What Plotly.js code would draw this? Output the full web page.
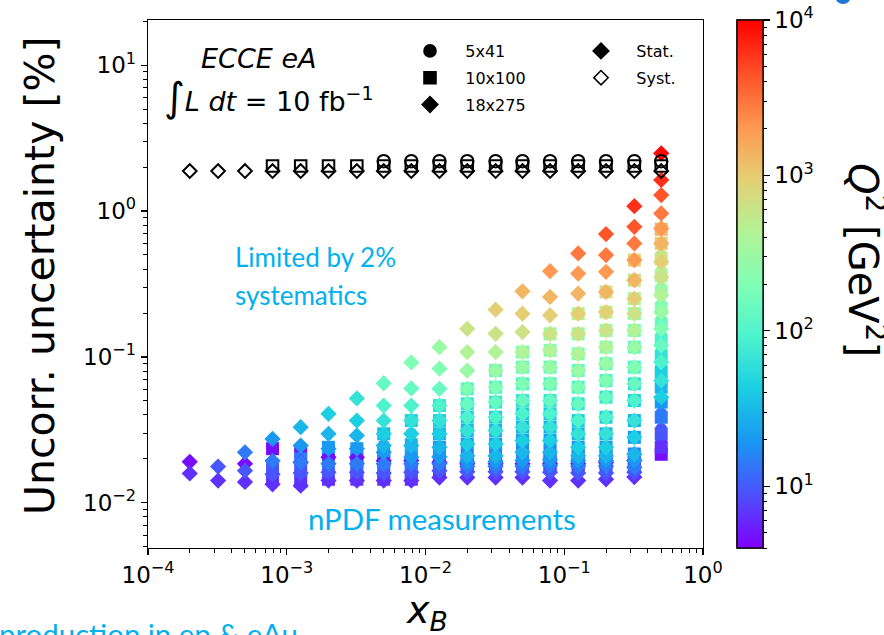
<!DOCTYPE html>
<html><head><meta charset="utf-8">
<script src="https://cdn.plot.ly/plotly-3.0.1.min.js"></script>
<style>html,body{margin:0;padding:0;background:#fff;} #chart{width:884px;height:635px;}</style>
</head><body><div id="chart"></div>
<script>
// ---------------- data ----------------
const xBins = [2.0e-4, 3.2e-4, 5.0e-4, 7.9e-4, 1.26e-3, 2.0e-3, 3.2e-3, 5.0e-3, 7.9e-3,
               1.26e-2, 2.0e-2, 3.2e-2, 5.0e-2, 7.9e-2, 0.126, 0.2, 0.32, 0.5];
const q2Bins = [4.5, 6.5, 9.5, 14, 20, 30, 43, 64, 93, 137, 200, 295, 430, 630, 930, 1360, 2000, 2900, 4300, 6300, 9200];

// stat. uncertainty [%], one row per x bin, entry j = Q2 bin j
const stat18x275 = [
 [0.0191, 0.0159],
 [null, 0.0142, 0.0177],
 [0.0185, 0.0139, 0.0166, 0.0222],
 [null, 0.0134, 0.0157, 0.0194, 0.0274],
 [0.0190, 0.0131, 0.0160, 0.0189, 0.0247, 0.0330],
 [0.0205, 0.0142, 0.0162, 0.0185, 0.0235, 0.0297, 0.0407],
 [0.0205, 0.0142, 0.0162, 0.0185, 0.0235, 0.0289, 0.0366, 0.0519],
 [0.0194, 0.0142, 0.0160, 0.0185, 0.0222, 0.0247, 0.0297, 0.0366, 0.0464, 0.0660],
 [0.0195, 0.0142, 0.0162, 0.0185, 0.0205, 0.0247, 0.0297, 0.0366, 0.0464, 0.0608, 0.0917],
 [0.0190, 0.0149, 0.0166, 0.0185, 0.0207, 0.0240, 0.0297, 0.0366, 0.0464, 0.0604, 0.0830, 0.1167],
 [0.0185, 0.0149, 0.0163, 0.0177, 0.0191, 0.0210, 0.0253, 0.0313, 0.0386, 0.0477, 0.0604, 0.0807, 0.108, 0.156],
 [0.0185, 0.0149, 0.0163, 0.0178, 0.0192, 0.0210, 0.0253, 0.0313, 0.0386, 0.0490, 0.0620, 0.0807, 0.108, 0.144, 0.211],
 [0.0185, 0.0149, 0.0163, 0.0178, 0.0195, 0.0222, 0.0267, 0.0330, 0.0407, 0.0502, 0.0654, 0.0851, 0.108, 0.148, 0.198, 0.282],
 [0.0185, 0.0142, 0.0162, 0.0180, 0.0197, 0.0222, 0.0267, 0.0330, 0.0407, 0.0502, 0.0654, 0.0851, 0.111, 0.144, 0.193, 0.258, 0.387],
 [0.0185, 0.0142, 0.0160, 0.0178, 0.0194, 0.0210, 0.0240, 0.0297, 0.0366, 0.0477, 0.0620, 0.0807, 0.105, 0.144, 0.198, 0.272, 0.373, 0.512],
 [0.0190, 0.0145, 0.0160, 0.0178, 0.0194, 0.0210, 0.0240, 0.0297, 0.0386, 0.0530, 0.0689, 0.0898, 0.1167, 0.152, 0.203, 0.279, 0.383, 0.499, 0.695],
 [0.0195, 0.0150, 0.0162, 0.0175, 0.0195, 0.0216, 0.0281, 0.0366, 0.0502, 0.0654, 0.0851, 0.1167, 0.152, 0.198, 0.251, 0.336, 0.461, 0.600, 0.780, 1.08],
 [null, null, null, null, null, null, 0.0530, 0.0689, 0.0921, 0.120, 0.156, 0.203, 0.265, 0.353, 0.449, 0.600, 0.760, 0.964, 1.288, 1.634, 2.49]
];
const stat10x100 = [
 [], [], [],
 [0.0235, 0.0150, 0.0180],
 [0.0225, 0.0140, 0.0165, 0.0200],
 [0.0210, 0.0145, 0.0165, 0.0190, 0.0240],
 [0.0200, 0.0145, 0.0165, 0.0190, 0.0235],
 [0.0195, 0.0145, 0.0165, 0.0190, 0.0225, 0.0297],
 [0.0195, 0.0145, 0.0163, 0.0185, 0.0210, 0.0250, 0.0366],
 [0.0190, 0.0166, 0.0185, 0.0207, 0.0240, 0.0297, 0.0366, 0.0464],
 [0.0185, 0.0177, 0.0191, 0.0210, 0.0253, 0.0313, 0.0386, 0.0477, 0.0604],
 [0.0185, 0.0178, 0.0192, 0.0210, 0.0253, 0.0313, 0.0386, 0.0490, 0.0620, 0.0807],
 [0.0185, 0.0178, 0.0195, 0.0222, 0.0267, 0.0330, 0.0407, 0.0502, 0.0654, 0.0851, 0.108],
 [0.0185, 0.0180, 0.0197, 0.0222, 0.0267, 0.0330, 0.0407, 0.0502, 0.0654, 0.0851, 0.111, 0.144],
 [0.0185, 0.0178, 0.0194, 0.0210, 0.0240, 0.0297, 0.0366, 0.0477, 0.0620, 0.0807, 0.105, 0.144, 0.198],
 [0.0190, 0.0178, 0.0194, 0.0210, 0.0240, 0.0297, 0.0386, 0.0530, 0.0689, 0.0898, 0.1167, 0.152, 0.203, 0.279],
 [0.0190, 0.0175, 0.0195, 0.0216, 0.0281, 0.0366, 0.0502, 0.0654, 0.0851, 0.1167, 0.152, 0.198, 0.251, 0.336, 0.461],
 [0.0215, 0.0240, 0.0297, 0.0386, 0.0490, 0.0620, 0.0790, 0.101, 0.130, 0.168, 0.215, 0.280, 0.360, 0.470, 0.600, 0.750]
];
const stat5x41 = [
 [], [], [], [], [], [], [],
 [0.0185, 0.0222, 0.0247, 0.0297],
 [0.0185, 0.0205, 0.0247, 0.0297, 0.0366],
 [0.0185, 0.0207, 0.0240, 0.0297, 0.0366, 0.0464],
 [0.0180, 0.0191, 0.0210, 0.0253, 0.0313, 0.0386, 0.0477],
 [0.0180, 0.0192, 0.0210, 0.0253, 0.0313, 0.0386, 0.0490, 0.0620],
 [0.0180, 0.0195, 0.0222, 0.0267, 0.0330, 0.0407, 0.0502, 0.0654, 0.0851],
 [0.0180, 0.0197, 0.0222, 0.0267, 0.0330, 0.0407, 0.0502, 0.0654, 0.0851, 0.111],
 [0.0180, 0.0194, 0.0210, 0.0240, 0.0297, 0.0366, 0.0477, 0.0620, 0.0807, 0.105, 0.144],
 [0.0180, 0.0194, 0.0210, 0.0240, 0.0297, 0.0386, 0.0530, 0.0689, 0.0898, 0.1167, 0.152, 0.203],
 [0.0190, 0.0195, 0.0216, 0.0281, 0.0366, 0.0502, 0.0654, 0.0851, 0.1167, 0.152, 0.198, 0.251, 0.336],
 [0.0230, 0.0260, 0.0320, 0.0410, 0.0520, 0.0660, 0.0850, 0.110, 0.140, 0.180, 0.230, 0.300, 0.390, 0.500]
];
// syst. uncertainty [%] per x bin
const syst18x275 = [1.88,1.88,1.88,1.88,1.88,1.88,1.88,1.88,1.88,1.88,1.88,1.88,1.88,1.88,1.88,1.88,1.88,1.88];
const syst10x100 = [null,null,null,2.04,2.04,2.04,2.04,2.04,2.04,2.04,2.04,2.04,2.04,2.04,2.04,2.04,2.04,2.04];
const syst5x41   = [null,null,null,null,null,null,null,2.2,2.2,2.2,2.2,2.2,2.2,2.2,2.2,2.2,2.2,2.2];

const yTickVals = [0.01, 0.1, 1, 10];
const yTickText = ['10<sup>−2</sup>', '10<sup>−1</sup>', '10<sup>0</sup>', '10<sup>1</sup>'];
const xTickVals = [1e-4, 1e-3, 1e-2, 1e-1, 1];
const xTickText = ['10<sup>−4</sup>', '10<sup>−3</sup>', '10<sup>−2</sup>', '10<sup>−1</sup>', '10<sup>0</sup>'];
const cbTickText = ['10<sup>1</sup>', '10<sup>2</sup>', '10<sup>3</sup>', '10<sup>4</sup>'];

// ---------------- build ----------------
const L = 148, R = 703, T = 20, B = 548;
const px = X => (X - L) / (R - L);
const py = Y => (B - Y) / (B - T);

const rainbow = [
 [0.0, 'rgb(128,0,255)'], [0.1, 'rgb(77,79,252)'], [0.2, 'rgb(26,150,243)'], [0.3, 'rgb(26,206,227)'],
 [0.4, 'rgb(77,243,206)'], [0.5, 'rgb(128,255,180)'], [0.6, 'rgb(179,243,150)'], [0.7, 'rgb(230,206,116)'],
 [0.8, 'rgb(255,150,79)'], [0.9, 'rgb(255,79,40)'], [1.0, 'rgb(255,0,0)']
];
const cmin = Math.log10(4), cmax = 4;

function flatten(table) {
  const xs = [], ys = [], cs = [], q = [];
  table.forEach((row, k) => row.forEach((v, j) => {
    if (v !== null && v !== undefined) { xs.push(xBins[k]); ys.push(v); cs.push(Math.log10(q2Bins[j])); q.push(q2Bins[j]); }
  }));
  return {xs, ys, cs, q};
}

// colour bar ticks: majors (labelled) and minors (separate unlabelled bar underneath)
const cbMajorVals = [1, 2, 3, 4];
const cbMinorVals = [];
[0, 1, 2, 3].forEach(d => {
  for (let m = 2; m <= 9; m++) {
    const v = d + Math.log10(m);
    if (v >= cmin - 1e-9 && v <= cmax + 1e-9) cbMinorVals.push(v);
  }
});
const cbBase = {
  x: px(737), xanchor: 'left', xpad: 0, y: 0.5, yanchor: 'middle', len: 1, lenmode: 'fraction', ypad: 0,
  thickness: 26, thicknessmode: 'pixels', outlinewidth: 1.3, outlinecolor: 'black',
  tickmode: 'array', ticks: 'outside', tickcolor: 'black', title: {text: ''}
};

function statTrace(table, symbol, size, name, colorbar) {
  const f = flatten(table);
  return {
    type: 'scatter', mode: 'markers', x: f.xs, y: f.ys, name: name, showlegend: false,
    customdata: f.q, hovertemplate: 'x=%{x}<br>stat=%{y}%<br>Q²=%{customdata}<extra>' + name + '</extra>',
    marker: {
      symbol: symbol, size: size, color: f.cs, colorscale: rainbow, cmin: cmin, cmax: cmax,
      line: {width: 0}, opacity: 1, showscale: !!colorbar, colorbar: colorbar
    }
  };
}
function systTrace(vals, symbol, size, name) {
  return {
    type: 'scatter', mode: 'markers', x: xBins, y: vals, name: name + ' syst', showlegend: false,
    marker: {symbol: symbol, size: size, color: 'black', line: {width: 2, color: 'black'}}
  };
}
function legendTrace(name, symbol, size, legend, group) {
  return {
    type: 'scatter', mode: 'markers', x: [null], y: [null], name: name, legend: legend, legendgroup: group,
    showlegend: true, hoverinfo: 'skip',
    marker: {symbol: symbol, size: size, color: 'black', line: {width: 1.6, color: 'black'}}
  };
}

const minorBar = Object.assign({}, cbBase, {tickvals: cbMinorVals, ticklen: 3.5, tickwidth: 1, showticklabels: false});
const majorBar = Object.assign({}, cbBase, {tickvals: cbMajorVals, ticktext: cbTickText, ticklen: 6.5, tickwidth: 1.3,
  tickfont: {family: 'DejaVu Sans', size: 23, color: 'black'}});

const nb = '\u00a0\u00a0\u00a0';
const data = [
  statTrace(stat5x41, 'circle', 12, '5x41', minorBar),
  statTrace(stat10x100, 'square', 13, '10x100', null),
  statTrace(stat18x275, 'diamond', 12.5, '18x275', majorBar),
  systTrace(syst5x41, 'circle-open', 12.5, '5x41'),
  systTrace(syst10x100, 'square-open', 11.5, '10x100'),
  systTrace(syst18x275, 'diamond-open', 10.5, '18x275'),
  legendTrace(nb + '5x41', 'circle', 12, 'legend', 'g1'),
  legendTrace(nb + '10x100', 'square', 12, 'legend', 'g2'),
  legendTrace(nb + '18x275', 'diamond', 12, 'legend', 'g3'),
  legendTrace(nb + 'Stat.', 'diamond', 12, 'legend2', 'g4'),
  legendTrace(nb + 'Syst.', 'diamond-open', 11, 'legend2', 'g5')
];

const font = 'DejaVu Sans';
const cyan = '#00B0F0';
const axisCommon = {
  type: 'log', showline: true, linecolor: 'black', linewidth: 1.3, mirror: true,
  ticks: 'outside', ticklen: 6, tickwidth: 1.3, tickcolor: 'black', tickmode: 'array',
  tickfont: {family: font, size: 23, color: 'black'}, showgrid: false, zeroline: false, automargin: false,
  minor: {ticks: 'outside', ticklen: 3.5, tickwidth: 1, tickcolor: 'black', dtick: 'D1', showgrid: false}
};

const legendCommon = {
  xanchor: 'left', yanchor: 'top', bgcolor: 'rgba(0,0,0,0)', borderwidth: 0,
  font: {family: font, size: 16, color: 'black'}, tracegroupgap: 3, itemwidth: 30,
  itemclick: false, itemdoubleclick: false
};

const layout = {
  width: 884, height: 635,
  margin: {l: L, r: 884 - R, t: T, b: 635 - B, pad: 0},
  paper_bgcolor: 'white', plot_bgcolor: 'white',
  font: {family: font, color: 'black'},
  showlegend: true,
  xaxis: Object.assign({}, axisCommon, {range: [-4, 0], tickvals: xTickVals, ticktext: xTickText}),
  yaxis: Object.assign({}, axisCommon, {range: [-2.31, 1.31], tickvals: yTickVals, ticktext: yTickText}),
  legend: Object.assign({}, legendCommon, {x: px(410), y: py(34)}),
  legend2: Object.assign({}, legendCommon, {x: px(581), y: py(34)}),
  shapes: [
    {type: 'circle', xref: 'paper', yref: 'paper', x0: px(835), x1: px(851), y0: py(4), y1: py(-12),
     fillcolor: '#1F78D8', line: {width: 0}, layer: 'above'}
  ],
  annotations: [
    {text: '<i>ECCE eA</i>', xref: 'paper', yref: 'paper', x: px(259), y: py(58), xanchor: 'center', yanchor: 'middle',
     showarrow: false, font: {family: font, size: 27, color: 'black'}},
    {text: '<span style="font-size:40px">∫</span><i>L dt</i> = 10 fb<sup>−1</sup>', xref: 'paper', yref: 'paper',
     x: px(268), y: py(97), xanchor: 'center', yanchor: 'middle', showarrow: false,
     font: {family: font, size: 27, color: 'black'}},
    {text: 'Limited by 2%', xref: 'paper', yref: 'paper', x: px(233), y: py(257), xanchor: 'left', yanchor: 'middle',
     showarrow: false, font: {family: 'Lato', size: 26, color: cyan}},
    {text: 'systematics', xref: 'paper', yref: 'paper', x: px(233), y: py(295), xanchor: 'left', yanchor: 'middle',
     showarrow: false, font: {family: 'Lato', size: 26, color: cyan}},
    {text: 'nPDF measurements', xref: 'paper', yref: 'paper', x: px(306), y: py(518), xanchor: 'left', yanchor: 'middle',
     showarrow: false, font: {family: 'Lato', size: 29.4, color: cyan}},
    {text: 'production in ep &amp; eAu', xref: 'paper', yref: 'paper', x: px(-3), y: py(614), xanchor: 'left', yanchor: 'top',
     showarrow: false, font: {family: 'Lato', size: 29.4, color: cyan}},
    {text: 'Uncorr. uncertainty [%]', xref: 'paper', yref: 'paper', x: px(40), y: py(276), xanchor: 'center', yanchor: 'middle',
     textangle: -90, showarrow: false, font: {family: font, size: 41, color: 'black'}},
    {text: '<i>x</i><sub><i>B</i></sub>', xref: 'paper', yref: 'paper', x: px(427), y: py(612), xanchor: 'center', yanchor: 'middle',
     showarrow: false, font: {family: font, size: 38, color: 'black'}},
    {text: '<i>Q</i><sup>2</sup> [GeV<sup>2</sup>]', xref: 'paper', yref: 'paper', x: px(866), y: py(260), xanchor: 'center', yanchor: 'middle',
     textangle: 90, showarrow: false, font: {family: font, size: 40, color: 'black'}}
  ]
};

Plotly.newPlot('chart', data, layout, {displayModeBar: false, staticPlot: true});
</script></body></html>
